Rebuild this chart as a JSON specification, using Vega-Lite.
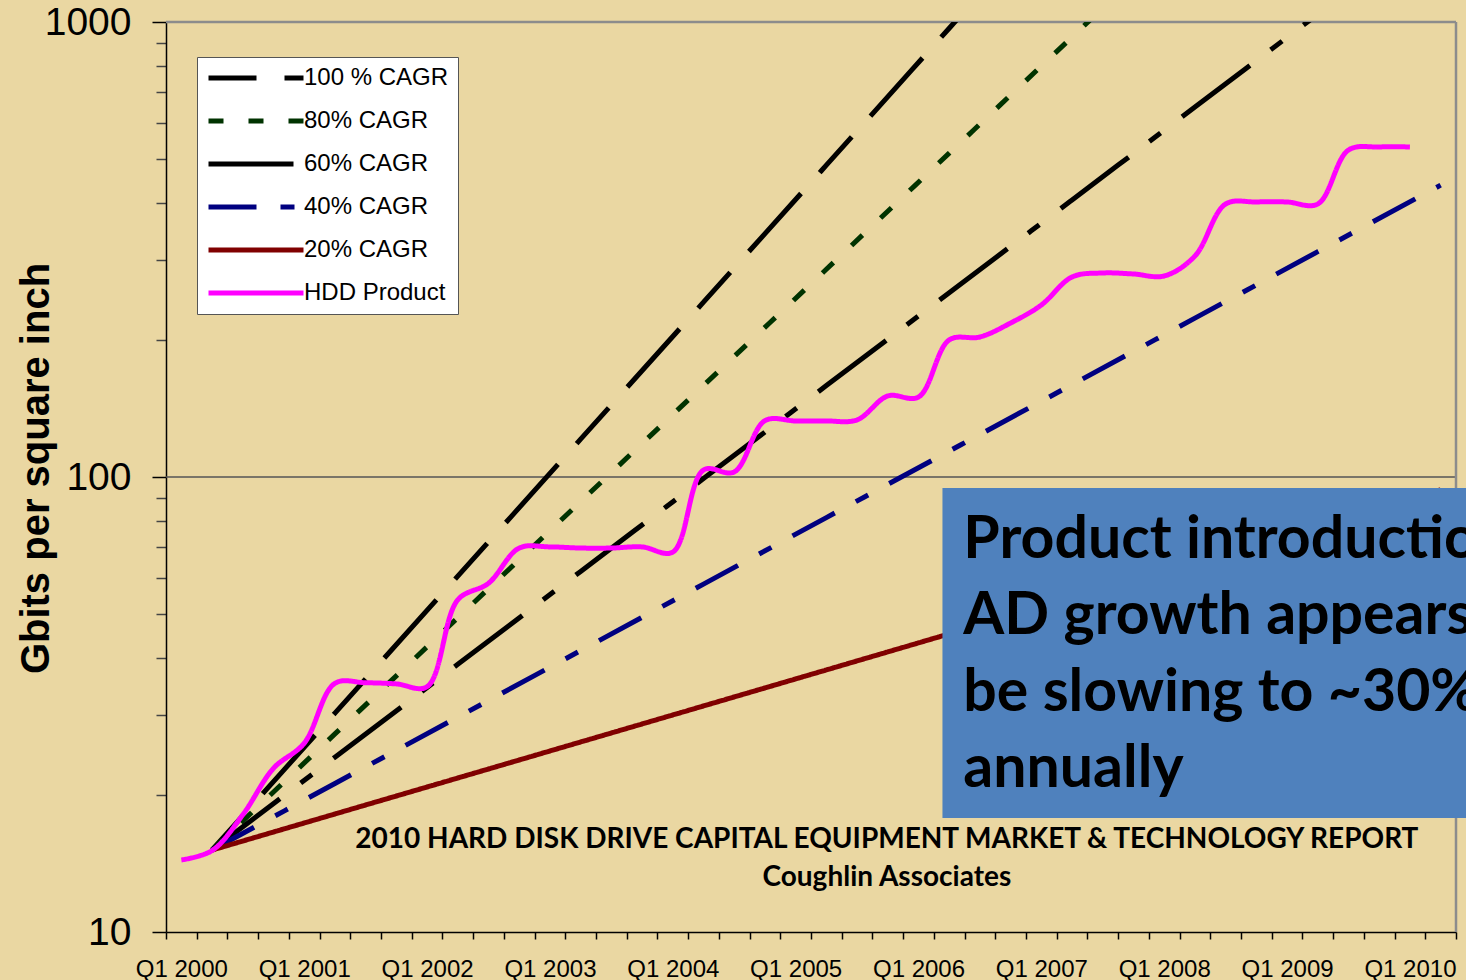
{
  "$schema": "https://vega.github.io/schema/vega-lite/v6.json",
  "width": 1290,
  "height": 910,
  "autosize": {"type": "none"},
  "padding": {"left": 166, "top": 22, "right": 10, "bottom": 48},
  "background": "#EAD7A2",
  "config": {
    "view": {"stroke": null},
    "axis": {"labelFont": "Liberation Sans", "titleFont": "Liberation Sans", "labelColor": "#000000", "titleColor": "#000000", "domainColor": "#000000", "domainWidth": 1.5}
  },
  "datasets": {
    "one": [{}],
    "lines": [
      {"series": "100 % CAGR", "q": 1, "v": 15.14},
      {"series": "100 % CAGR", "q": 5, "v": 30.28},
      {"series": "100 % CAGR", "q": 9, "v": 60.56},
      {"series": "100 % CAGR", "q": 13, "v": 121.1},
      {"series": "100 % CAGR", "q": 17, "v": 242.2},
      {"series": "100 % CAGR", "q": 21, "v": 484.5},
      {"series": "100 % CAGR", "q": 25, "v": 969.0},
      {"series": "100 % CAGR", "q": 29, "v": 1938},
      {"series": "80% CAGR", "q": 1, "v": 15.14},
      {"series": "80% CAGR", "q": 5, "v": 27.25},
      {"series": "80% CAGR", "q": 9, "v": 49.05},
      {"series": "80% CAGR", "q": 13, "v": 88.3},
      {"series": "80% CAGR", "q": 17, "v": 158.9},
      {"series": "80% CAGR", "q": 21, "v": 286.1},
      {"series": "80% CAGR", "q": 25, "v": 515.0},
      {"series": "80% CAGR", "q": 29, "v": 926.9},
      {"series": "80% CAGR", "q": 33, "v": 1668.5},
      {"series": "60% CAGR", "q": 1, "v": 15.14},
      {"series": "60% CAGR", "q": 5, "v": 24.22},
      {"series": "60% CAGR", "q": 9, "v": 38.76},
      {"series": "60% CAGR", "q": 13, "v": 62.02},
      {"series": "60% CAGR", "q": 17, "v": 99.22},
      {"series": "60% CAGR", "q": 21, "v": 158.8},
      {"series": "60% CAGR", "q": 25, "v": 254.0},
      {"series": "60% CAGR", "q": 29, "v": 406.4},
      {"series": "60% CAGR", "q": 33, "v": 650.3},
      {"series": "60% CAGR", "q": 37, "v": 1040.4},
      {"series": "40% CAGR", "q": 1, "v": 15.14},
      {"series": "40% CAGR", "q": 5, "v": 21.2},
      {"series": "40% CAGR", "q": 9, "v": 29.67},
      {"series": "40% CAGR", "q": 13, "v": 41.54},
      {"series": "40% CAGR", "q": 17, "v": 58.16},
      {"series": "40% CAGR", "q": 21, "v": 81.43},
      {"series": "40% CAGR", "q": 25, "v": 114.0},
      {"series": "40% CAGR", "q": 29, "v": 159.6},
      {"series": "40% CAGR", "q": 33, "v": 223.4},
      {"series": "40% CAGR", "q": 37, "v": 312.8},
      {"series": "40% CAGR", "q": 41, "v": 437.9},
      {"series": "20% CAGR", "q": 1, "v": 15.14},
      {"series": "20% CAGR", "q": 5, "v": 18.17},
      {"series": "20% CAGR", "q": 9, "v": 21.8},
      {"series": "20% CAGR", "q": 13, "v": 26.16},
      {"series": "20% CAGR", "q": 17, "v": 31.39},
      {"series": "20% CAGR", "q": 21, "v": 37.67},
      {"series": "20% CAGR", "q": 25, "v": 45.21},
      {"series": "20% CAGR", "q": 29, "v": 54.25},
      {"series": "20% CAGR", "q": 33, "v": 65.1},
      {"series": "20% CAGR", "q": 37, "v": 78.12},
      {"series": "20% CAGR", "q": 41, "v": 93.75},
      {"series": "HDD Product", "q": 0, "v": 14.4},
      {"series": "HDD Product", "q": 1, "v": 15.1},
      {"series": "HDD Product", "q": 2, "v": 18.1},
      {"series": "HDD Product", "q": 3, "v": 22.9},
      {"series": "HDD Product", "q": 4, "v": 26.0},
      {"series": "HDD Product", "q": 5, "v": 35.2},
      {"series": "HDD Product", "q": 6, "v": 35.3},
      {"series": "HDD Product", "q": 7, "v": 35.1},
      {"series": "HDD Product", "q": 8, "v": 34.6},
      {"series": "HDD Product", "q": 9, "v": 53.7},
      {"series": "HDD Product", "q": 10, "v": 58.4},
      {"series": "HDD Product", "q": 11, "v": 69.8},
      {"series": "HDD Product", "q": 12, "v": 70.2},
      {"series": "HDD Product", "q": 13, "v": 69.8},
      {"series": "HDD Product", "q": 14, "v": 69.8},
      {"series": "HDD Product", "q": 15, "v": 70.2},
      {"series": "HDD Product", "q": 16, "v": 68.4},
      {"series": "HDD Product", "q": 17, "v": 103.6},
      {"series": "HDD Product", "q": 18, "v": 102.6},
      {"series": "HDD Product", "q": 19, "v": 133.0},
      {"series": "HDD Product", "q": 20, "v": 132.8},
      {"series": "HDD Product", "q": 21, "v": 132.8},
      {"series": "HDD Product", "q": 22, "v": 133.5},
      {"series": "HDD Product", "q": 23, "v": 150.7},
      {"series": "HDD Product", "q": 24, "v": 149.9},
      {"series": "HDD Product", "q": 25, "v": 200.1},
      {"series": "HDD Product", "q": 26, "v": 203.1},
      {"series": "HDD Product", "q": 27, "v": 218.0},
      {"series": "HDD Product", "q": 28, "v": 238.8},
      {"series": "HDD Product", "q": 29, "v": 275.2},
      {"series": "HDD Product", "q": 30, "v": 280.8},
      {"series": "HDD Product", "q": 31, "v": 279.4},
      {"series": "HDD Product", "q": 32, "v": 276.6},
      {"series": "HDD Product", "q": 33, "v": 306.0},
      {"series": "HDD Product", "q": 34, "v": 398.1},
      {"series": "HDD Product", "q": 35, "v": 402.2},
      {"series": "HDD Product", "q": 36, "v": 402.2},
      {"series": "HDD Product", "q": 37, "v": 398.1},
      {"series": "HDD Product", "q": 38, "v": 523.2},
      {"series": "HDD Product", "q": 39, "v": 531.3},
      {"series": "HDD Product", "q": 40, "v": 531.3}
    ]
  },
  "layer": [
    {
      "data": {"name": "one"},
      "mark": {"type": "rule", "color": "#555555", "strokeWidth": 1.5},
      "encoding": {
        "y": {"datum": 100, "type": "quantitative", "scale": {"type": "log", "domain": [10, 1000]}, "title": "Gbits per square inch"}
      }
    },
    {
      "data": {"name": "one"},
      "mark": {"type": "rule", "color": "#8C8C8C", "strokeWidth": 2.5},
      "encoding": {
        "y": {"datum": 1000, "type": "quantitative", "scale": {"type": "log", "domain": [10, 1000]}, "title": "Gbits per square inch"}
      }
    },
    {
      "data": {"name": "one"},
      "mark": {"type": "rule", "color": "#8C8C8C", "strokeWidth": 2.5},
      "encoding": {
        "x": {"datum": 41.5, "type": "quantitative", "scale": {"domain": [-0.5, 41.5], "nice": false, "zero": false}, "title": null}
      }
    },
    {
      "data": {"name": "lines"},
      "mark": {"type": "line", "clip": true, "interpolate": "catmull-rom", "strokeWidth": 5},
      "encoding": {
        "x": {
          "field": "q", "type": "quantitative",
          "scale": {"domain": [-0.5, 41.5], "nice": false, "zero": false},
          "title": null,
          "axis": {
            "values": [-0.5, 0.5, 1.5, 2.5, 3.5, 4.5, 5.5, 6.5, 7.5, 8.5, 9.5, 10.5, 11.5, 12.5, 13.5, 14.5, 15.5, 16.5, 17.5, 18.5, 19.5, 20.5, 21.5, 22.5, 23.5, 24.5, 25.5, 26.5, 27.5, 28.5, 29.5, 30.5, 31.5, 32.5, 33.5, 34.5, 35.5, 36.5, 37.5, 38.5, 39.5, 40.5, 41.5],
            "tickCount": 200,
            "labelExpr": "((datum.value + 0.5) % 4 == 0 && datum.value < 41) ? 'Q1 ' + (2000 + (datum.value + 0.5) / 4) : ''",
            "labelOffset": 15.36,
            "labelFontSize": 24,
            "labelPadding": 18,
            "labelAlign": "center",
            "labelFlush": false,
            "labelBound": false,
            "labelOverlap": false,
            "tickSize": 7,
            "tickColor": "#000000",
            "tickWidth": 1.5,
            "grid": false
          }
        },
        "y": {
          "field": "v", "type": "quantitative",
          "scale": {"type": "log", "domain": [10, 1000]},
          "title": "Gbits per square inch",
          "axis": {
            "values": [10, 20, 30, 40, 50, 60, 70, 80, 90, 100, 200, 300, 400, 500, 600, 700, 800, 900, 1000],
            "tickCount": 200,
            "labelExpr": "indexof([10, 100, 1000], datum.value) >= 0 ? format(datum.value, 'd') : ''",
            "labelFontSize": 39,
            "labelPadding": 21,
            "labelOverlap": false,
            "labelFlush": false,
            "labelBound": false,
            "tickSize": {"condition": {"test": "indexof([10, 100, 1000], datum.value) >= 0", "value": 14}, "value": 10},
            "tickColor": {"condition": {"test": "indexof([10, 100, 1000], datum.value) >= 0", "value": "#000000"}, "value": "#444444"},
            "tickWidth": 1.5,
            "grid": false,
            "titleFontSize": 40,
            "titleFontWeight": "bold",
            "titleAngle": -90,
            "titleAlign": "center",
            "titleBaseline": "middle",
            "titleX": -130,
            "titleY": 446
          }
        },
        "color": {
          "field": "series", "type": "nominal",
          "scale": {
            "domain": ["100 % CAGR", "80% CAGR", "60% CAGR", "40% CAGR", "20% CAGR", "HDD Product"],
            "range": ["#000000", "#003300", "#000000", "#000080", "#800000", "#FF00FF"]
          },
          "legend": {
            "title": null,
            "orient": "none",
            "legendX": 31,
            "legendY": 35,
            "fillColor": "#FFFFFF",
            "strokeColor": "#555555",
            "padding": 9,
            "labelFont": "Liberation Sans",
            "labelFontSize": 24,
            "labelColor": "#000000",
            "labelOffset": 74,
            "symbolType": "M-1,0H9",
            "symbolSize": 361,
            "symbolStrokeWidth": 5,
            "rowPadding": 19
          }
        },
        "strokeDash": {
          "field": "series", "type": "nominal",
          "scale": {
            "domain": ["100 % CAGR", "80% CAGR", "60% CAGR", "40% CAGR", "20% CAGR", "HDD Product"],
            "range": [[48, 28, 78, 28], [15, 25], [85, 26, 14, 27], [48, 24, 14, 24], [1, 0], [1, 0]]
          },
          "legend": {
            "title": null,
            "orient": "none",
            "legendX": 31,
            "legendY": 35,
            "fillColor": "#FFFFFF",
            "strokeColor": "#555555",
            "padding": 9,
            "labelFont": "Liberation Sans",
            "labelFontSize": 24,
            "labelColor": "#000000",
            "labelOffset": 74,
            "symbolType": "M-1,0H9",
            "symbolSize": 361,
            "symbolStrokeWidth": 5,
            "rowPadding": 19
          }
        }
      }
    },
    {
      "data": {"name": "one"},
      "mark": {"type": "rect", "color": "#4F81BD", "opacity": 1},
      "encoding": {
        "x": {"datum": 24.78, "type": "quantitative", "scale": {"domain": [-0.5, 41.5], "nice": false, "zero": false}, "title": null},
        "x2": {"datum": 60},
        "y": {"datum": 94.6, "type": "quantitative", "scale": {"type": "log", "domain": [10, 1000]}, "title": "Gbits per square inch"},
        "y2": {"datum": 17.8}
      }
    },
    {
      "data": {"name": "one"},
      "mark": {"type": "text", "font": "Lato", "fontWeight": "bold", "fontSize": 59, "align": "left", "baseline": "alphabetic", "lineHeight": 76.5, "color": "#000000"},
      "encoding": {
        "x": {"datum": 25.46, "type": "quantitative", "scale": {"domain": [-0.5, 41.5], "nice": false, "zero": false}, "title": null},
        "y": {"datum": 66.4, "type": "quantitative", "scale": {"type": "log", "domain": [10, 1000]}, "title": "Gbits per square inch"},
        "text": {"value": ["Product introduction", "AD growth appears to", "be slowing to ~30%", "annually"]}
      }
    },
    {
      "data": {"name": "one"},
      "mark": {"type": "text", "font": "Lato", "fontWeight": "bold", "fontSize": 28, "align": "center", "baseline": "alphabetic", "lineHeight": 38, "color": "#000000"},
      "encoding": {
        "x": {"datum": 22.97, "type": "quantitative", "scale": {"domain": [-0.5, 41.5], "nice": false, "zero": false}, "title": null},
        "y": {"datum": 15.3, "type": "quantitative", "scale": {"type": "log", "domain": [10, 1000]}, "title": "Gbits per square inch"},
        "text": {"value": ["2010 HARD DISK DRIVE CAPITAL EQUIPMENT  MARKET & TECHNOLOGY REPORT", "Coughlin Associates"]}
      }
    }
  ]
}
